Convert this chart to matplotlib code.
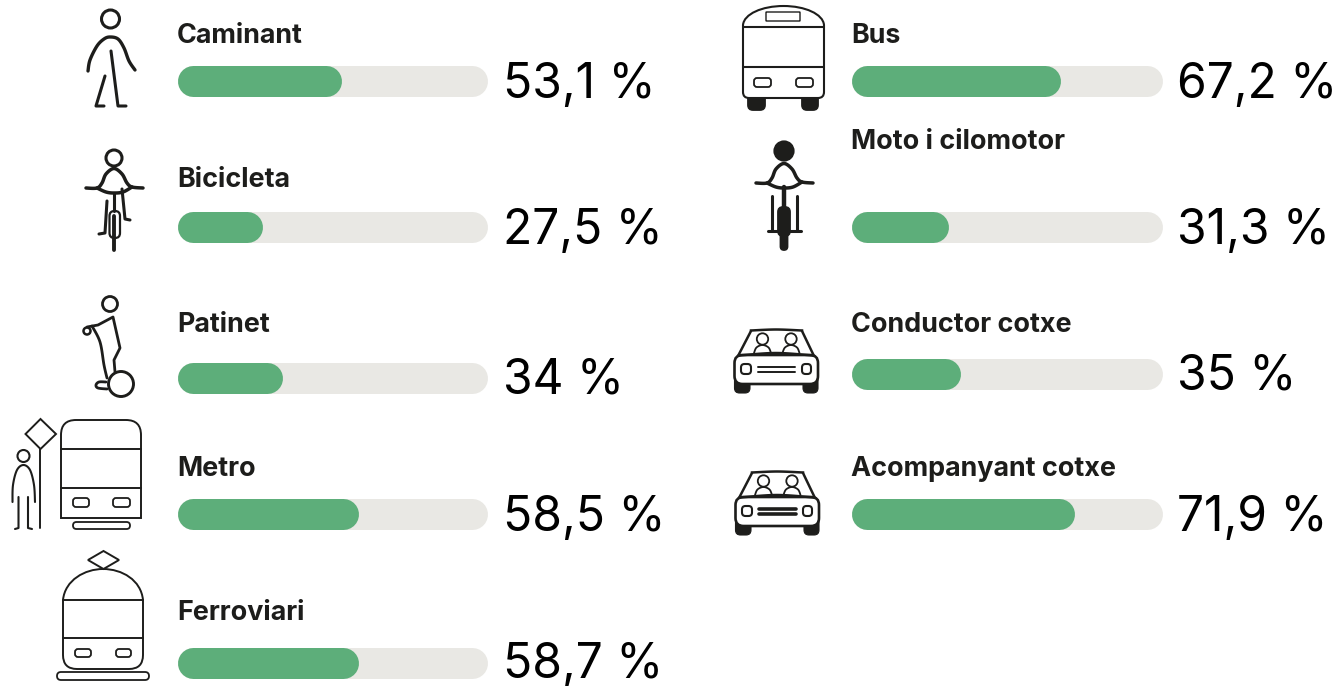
import numpy as np
import matplotlib
matplotlib.use('Agg')
import matplotlib.pyplot as plt
from matplotlib.patches import Circle, FancyBboxPatch, PathPatch, Polygon
from matplotlib.path import Path

W, H = 1341, 686

left_labels = ['Caminant', 'Bicicleta', 'Patinet', 'Metro', 'Ferroviari']
left_values = [53.1, 27.5, 34, 58.5, 58.7]
right_labels = ['Bus', 'Moto i cilomotor', 'Conductor cotxe', 'Acompanyant cotxe']
right_values = [67.2, 31.3, 35, 71.9]

GREEN = '#5dae7a'
TRACK = '#e9e8e4'
INK = '#1d1d1b'

fig = plt.figure(figsize=(W / 100, H / 100), dpi=100, facecolor='white')
# Overlay in pixel coordinates for the icons and text
px = fig.add_axes([0, 0, 1, 1])
px.set_xlim(0, W)
px.set_ylim(H, 0)
px.axis('off')


def smooth(pts, n=12):
    '''Catmull-Rom line through the points, so icon curves look round'''
    p = np.array(pts, dtype=float)
    p = np.vstack([p[0], p, p[-1]])
    out = []
    for i in range(1, len(p) - 2):
        for t in np.linspace(0, 1, n, endpoint=False):
            out.append(0.5 * (2 * p[i] + (p[i + 1] - p[i - 1]) * t
                              + (2 * p[i - 1] - 5 * p[i] + 4 * p[i + 1] - p[i + 2]) * t ** 2
                              + (3 * p[i] - p[i - 1] - 3 * p[i + 1] + p[i + 2]) * t ** 3))
    out.append(p[-2])
    return np.array(out)


def line(pts, lw=1.6, curve=False):
    xy = smooth(pts) if curve else np.array(pts, dtype=float)
    px.plot(xy[:, 0], xy[:, 1], color=INK, lw=lw, solid_capstyle='round',
            solid_joinstyle='round')


def circle(x, y, r, lw=1.6, fill=False):
    px.add_patch(Circle((x, y), r, fill=fill, fc=INK if fill else 'none', ec=INK, lw=lw))


def rrect(x0, y0, x1, y1, r, lw=1.3, fill=False):
    px.add_patch(FancyBboxPatch((x0, y0), x1 - x0, y1 - y0,
                                boxstyle=f'round,pad=0,rounding_size={r}',
                                fc=INK if fill else 'white', ec=INK, lw=lw))


def bike_body(cx, dy):
    line([(cx - 28, 188 + dy), (cx - 17, 188 + dy), (cx - 12, 183 + dy), (cx - 8, 174 + dy),
          (cx, 168.5 + dy), (cx + 8, 174 + dy), (cx + 13, 183 + dy), (cx + 18, 187 + dy),
          (cx + 29, 188 + dy)], lw=2.5, curve=True)
    line([(cx - 17, 188 + dy), (cx - 8, 192 + dy), (cx, 193 + dy), (cx + 9, 192 + dy),
          (cx + 18, 187 + dy)], lw=2.5, curve=True)


def car(dx, dy, thick=False):
    roof = smooth([(751 + dx, 330.5 + dy), (776 + dx, 329.5 + dy), (802 + dx, 330.5 + dy)])
    line([(751 + dx, 331 + dy), (738 + dx, 356 + dy)], lw=1.8)
    line([(802 + dx, 331 + dy), (814 + dx, 356 + dy)], lw=1.8)
    px.plot(roof[:, 0], roof[:, 1], color=INK, lw=1.8)
    rrect(734.5 + dx, 374 + dy, 750 + dx, 393 + dy, 5, lw=0.8, fill=True)
    rrect(803 + dx, 374 + dy, 818 + dx, 393 + dy, 5, lw=0.8, fill=True)
    rrect(734.5 + dx, 355 + dy, 818 + dx, 384 + dy, 8, lw=1.9)
    top = smooth([(739 + dx, 355.5 + dy), (776 + dx, 353 + dy), (813 + dx, 355.5 + dy)])
    px.plot(top[:, 0], top[:, 1], color=INK, lw=1.8)
    rrect(741 + dx, 364 + dy, 751 + dx, 374 + dy, 3.5, lw=1.5)
    rrect(802 + dx, 364 + dy, 811 + dx, 374 + dy, 3.5, lw=1.5)
    lw = 2.6 if thick else 1.4
    line([(758 + dx, 367 + dy), (795 + dx, 367 + dy)], lw=lw)
    line([(758 + dx, 372 + dy), (795 + dx, 372 + dy)], lw=lw)
    for hx in (762.5, 791):
        circle(hx + dx, 339 + dy, 5.7, lw=1.3)
        line([(hx - 8.5 + dx, 353 + dy), (hx - 6 + dx, 347.5 + dy), (hx + dx, 345 + dy),
              (hx + 6 + dx, 347.5 + dy), (hx + 8.5 + dx, 353 + dy)], lw=1.3, curve=True)


def caminant():
    circle(110.5, 19, 9, lw=2.2)
    line([(88, 71), (90, 60), (97, 46), (104, 39), (110, 37), (118, 39), (124, 48), (129, 61),
          (135, 70)], lw=2.4, curve=True)
    line([(111, 51), (118, 106), (126, 106)], lw=2.2)
    line([(105, 76), (96, 106), (104, 106)], lw=2.2)


def bicicleta():
    circle(114, 158, 8, lw=2.2)
    bike_body(114, 0)
    line([(114, 193), (114, 211)], lw=2.2)
    rrect(109.5, 211, 120, 238, 5, lw=1.6)
    line([(114.5, 216), (114.5, 250)], lw=2.8)
    line([(107, 201), (105, 233), (99, 234)], lw=2.2)
    line([(122, 189), (125, 219), (130, 220)], lw=2.2)


def patinet():
    circle(110, 304, 7.5, lw=2)
    circle(87, 331, 3.5, lw=1.8)
    line([(87, 327), (98, 325), (113, 317), (120, 348), (114, 360), (115, 372)], lw=2)
    line([(92, 326), (100, 342), (104, 365), (107, 378)], lw=2, curve=True)
    circle(121, 384, 12.5, lw=2.1)
    line([(106, 382), (99, 382), (96, 385), (98, 388), (107, 389)], lw=2, curve=True)


def metro():
    px.add_patch(Polygon([(40.5, 419), (56, 434), (40.5, 449), (25.5, 434)], closed=True,
                         fill=False, ec=INK, lw=1.4))
    line([(40.5, 449), (40.5, 528)], lw=1.4)
    circle(23.5, 456, 6, lw=1.5)
    line([(12.5, 502), (13, 485), (17, 470), (23.5, 465), (30, 470), (34, 485), (35, 502)],
         lw=1.5, curve=True)
    line([(18.5, 497), (18.5, 528), (15, 529)], lw=1.5)
    line([(28, 497), (28, 528), (32, 529)], lw=1.5)
    # Train with a flat top and small corners at the bottom
    verts = [(61, 518), (61, 435), (61, 420), (76, 420), (126, 420), (141, 420), (141, 435),
             (141, 518), (61, 518)]
    codes = [Path.MOVETO, Path.LINETO, Path.CURVE3, Path.CURVE3, Path.LINETO, Path.CURVE3,
             Path.CURVE3, Path.LINETO, Path.CLOSEPOLY]
    px.add_patch(PathPatch(Path(verts, codes), fill=False, ec=INK, lw=1.4))
    line([(61, 449), (141, 449)], lw=1.4)
    line([(61, 488), (141, 488)], lw=1.4)
    rrect(73, 498, 89, 507, 3)
    rrect(113, 498, 130, 507, 3)
    rrect(73, 522, 130, 529, 3.5)


def ferroviari():
    px.add_patch(Polygon([(103.5, 551), (119, 560), (103.5, 569), (88, 560)], closed=True,
                         fill=False, ec=INK, lw=1.4))
    verts = [(63, 600), (65, 580), (85, 569), (103, 569), (122, 569), (141, 580), (143, 600),
             (143, 655), (143, 669), (129, 669), (77, 669), (63, 669), (63, 655), (63, 600)]
    codes = [Path.MOVETO, Path.CURVE4, Path.CURVE4, Path.CURVE4, Path.CURVE4, Path.CURVE4,
             Path.CURVE4, Path.LINETO, Path.CURVE3, Path.CURVE3, Path.LINETO, Path.CURVE3,
             Path.CURVE3, Path.CLOSEPOLY]
    px.add_patch(PathPatch(Path(verts, codes), fill=False, ec=INK, lw=1.4))
    line([(63, 600), (143, 600)], lw=1.4)
    line([(63, 638), (143, 638)], lw=1.4)
    rrect(75, 649, 91, 657, 3)
    rrect(116, 649, 131, 657, 3)
    rrect(57, 672, 149, 680, 4)


def bus():
    rrect(748, 92, 765, 110, 5, fill=True)
    rrect(802, 92, 818, 110, 5, fill=True)
    verts = [(743, 25), (744, 14), (762, 6), (783.5, 6), (805, 6), (823, 14), (824, 25),
             (824, 92), (824, 98), (818, 98), (749, 98), (743, 98), (743, 92), (743, 25)]
    codes = [Path.MOVETO, Path.CURVE4, Path.CURVE4, Path.CURVE4, Path.CURVE4, Path.CURVE4,
             Path.CURVE4, Path.LINETO, Path.CURVE3, Path.CURVE3, Path.LINETO, Path.CURVE3,
             Path.CURVE3, Path.CLOSEPOLY]
    px.add_patch(PathPatch(Path(verts, codes), fc='white', ec=INK, lw=1.5))
    line([(743, 26.5), (824, 26.5)], lw=1.5)
    line([(743, 67), (824, 67)], lw=1.5)
    rrect(766, 12, 800, 21, 0.5, lw=1)
    rrect(754, 78, 771, 87, 3)
    rrect(796, 78, 813, 87, 3)


def moto():
    circle(784, 151, 9.5, fill=True)
    bike_body(784, -5)
    line([(784, 187), (784, 208)], lw=3.2)
    rrect(778, 207, 790, 236, 5, fill=True)
    rrect(780.5, 230, 787.5, 250, 3.5, fill=True)
    line([(772.5, 196), (772.5, 231)], lw=2.2)
    line([(797, 196), (797, 231)], lw=2.2)
    line([(768, 231), (778, 231)], lw=2.2)
    line([(790, 231), (801, 231)], lw=2.2)


caminant()
bicicleta()
patinet()
metro()
ferroviari()
bus()
moto()
car(0, 0)
car(1, 142, thick=True)


def row(label, value, x0, track_w, bar_top, label_base, value_base):
    # Bar runs in percent on its own small axes, 31 px tall with round ends
    ax = fig.add_axes([(x0 - 1) / W, 1 - (bar_top - 1 + 31) / H, track_w / W, 31 / H])
    ax.set_xlim(0, 100)
    ax.set_ylim(-1, 1)
    ax.axis('off')
    cap = 15.5 / track_w * 100
    lw = 31 * 72 / 100
    ax.plot([cap, 100 - cap], [0, 0], color=TRACK, lw=lw, solid_capstyle='round', clip_on=False)
    ax.plot([cap, value - cap], [0, 0], color=GREEN, lw=lw, solid_capstyle='round', clip_on=False)
    px.text(x0 - 1, label_base, label, family='Inter', weight='bold', fontsize=19.4, color=INK,
            va='baseline', ha='left')
    txt = f'{value:g}'.replace('.', ',') + ' %'
    px.text(x0 + 325, value_base, txt, family='Inter', fontsize=34.5, color='black',
            va='baseline', ha='left')


left_tops = [66, 212, 363, 499, 648]
left_label_y = [43, 187, 332, 476, 620]
left_value_y = [98, 244, 393, 531, 678]
for i in range(len(left_labels)):
    row(left_labels[i], left_values[i], 178, 310, left_tops[i], left_label_y[i], left_value_y[i])

right_tops = [66, 212, 359, 499]
right_label_y = [43, 149, 332, 476]
right_value_y = [98, 244, 389, 531]
for i in range(len(right_labels)):
    row(right_labels[i], right_values[i], 852.5, 310.5, right_tops[i], right_label_y[i],
        right_value_y[i])

fig.savefig('out.png', dpi=100)
